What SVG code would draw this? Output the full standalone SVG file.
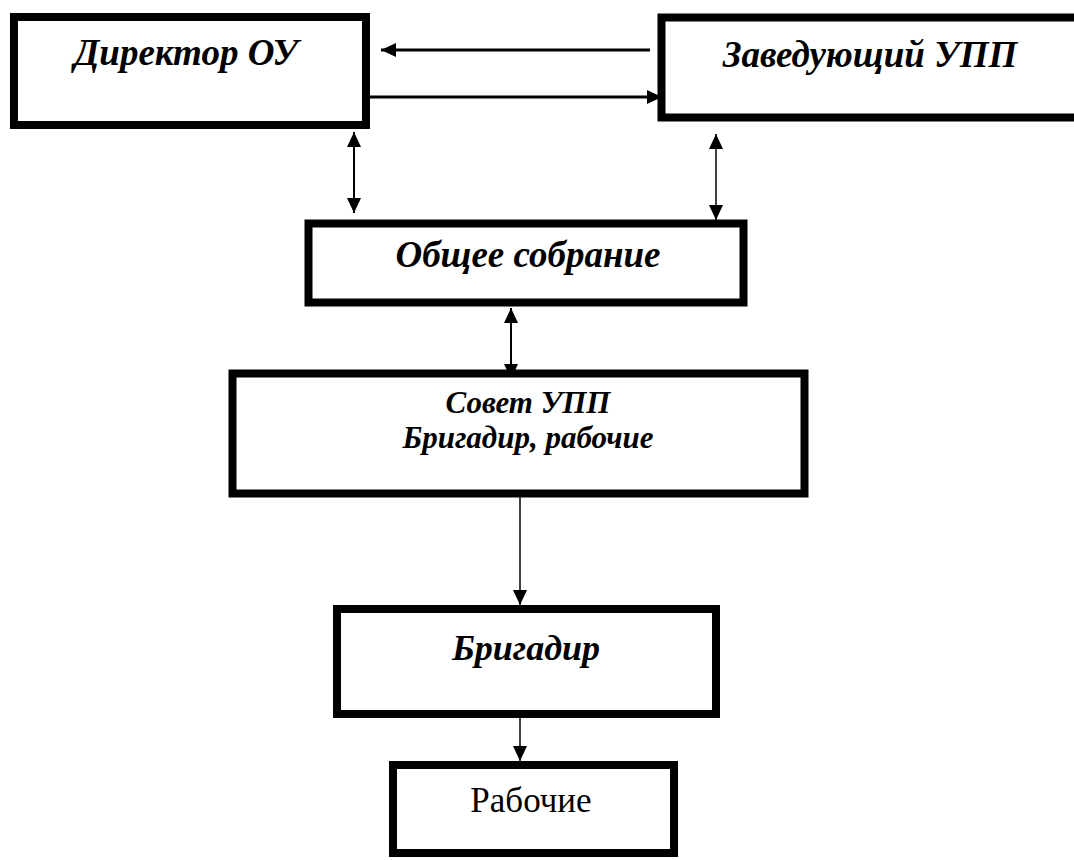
<svg xmlns="http://www.w3.org/2000/svg" width="1074" height="860" viewBox="0 0 1074 860">
<style>
.box{fill:#fff;stroke:#000;stroke-width:8}
.t{font-family:"Liberation Serif","Times New Roman",serif;font-weight:bold;font-style:italic;fill:#000;text-anchor:middle}
.r{font-family:"Liberation Serif","Times New Roman",serif;fill:#000;text-anchor:middle}
.c{stroke:#000;fill:none}
</style>
<defs>
<marker id="ah" viewBox="0 0 15 14" refX="15" refY="7" markerWidth="15" markerHeight="14" markerUnits="userSpaceOnUse" orient="auto-start-reverse">
<path d="M0,0 L15,7 L0,14 z" fill="#000"/>
</marker>
</defs>
<rect width="1074" height="860" fill="#fff"/>
<g id="connectors">
<line class="c" x1="650" y1="50" x2="381" y2="50" stroke-width="3" marker-end="url(#ah)"/>
<line class="c" x1="370" y1="97" x2="662" y2="97" stroke-width="3" marker-end="url(#ah)"/>
<line class="c" x1="354" y1="132" x2="354" y2="213" stroke-width="2" marker-start="url(#ah)" marker-end="url(#ah)"/>
<line class="c" x1="716" y1="134" x2="716" y2="220" stroke-width="1.5" marker-start="url(#ah)" marker-end="url(#ah)"/>
<line class="c" x1="511" y1="308" x2="511" y2="379" stroke-width="2" marker-start="url(#ah)" marker-end="url(#ah)"/>
<line class="c" x1="520" y1="497" x2="520" y2="605" stroke-width="1.5" marker-end="url(#ah)"/>
<line class="c" x1="520" y1="718" x2="520" y2="761" stroke-width="1.5" marker-end="url(#ah)"/>
</g>
<g id="director">
<rect class="box" x="14" y="17" width="352" height="108"/>
<text class="t" x="186" y="65" font-size="37">Директор ОУ</text>
</g>
<g id="zaveduyushchiy">
<rect class="box" x="661.5" y="17.5" width="430" height="100" stroke-width="7"/>
<text class="t" x="870" y="67" font-size="37">Заведующий УПП</text>
</g>
<g id="obshchee-sobranie">
<rect class="box" x="308.5" y="223.5" width="435" height="79" stroke-width="7"/>
<text class="t" x="528" y="267" font-size="37">Общее собрание</text>
</g>
<g id="sovet">
<rect class="box" x="232.5" y="373.5" width="572" height="120" stroke-width="7"/>
<text class="t" x="528" y="413" font-size="31">Совет УПП</text>
<text class="t" x="528" y="448" font-size="31">Бригадир, рабочие</text>
</g>
<g id="brigadir">
<rect class="box" x="337" y="609" width="379" height="105"/>
<text class="t" x="526" y="660" font-size="36">Бригадир</text>
</g>
<g id="rabochie">
<rect class="box" x="393" y="765" width="281" height="88"/>
<text class="r" x="531" y="812" font-size="35">Рабочие</text>
</g>
</svg>
